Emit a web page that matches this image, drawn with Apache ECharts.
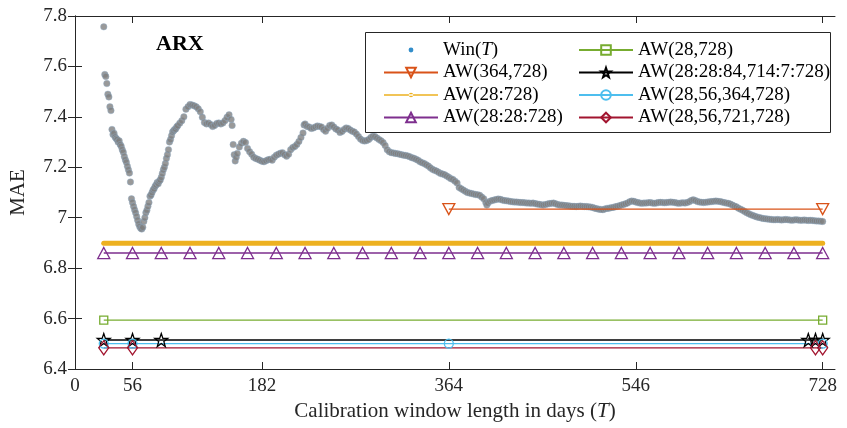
<!DOCTYPE html>
<html>
<head>
<meta charset="utf-8">
<script src="https://cdn.jsdelivr.net/npm/echarts@6/dist/echarts.min.js"></script>
<style>
  html, body { margin: 0; padding: 0; background: #fff; }
  #chart { width: 847px; height: 428px; }
</style>
</head>
<body>
<div id="chart"></div>
<script>
// x ticks / y range
const xTicks = [0, 56, 182, 364, 546, 728];

// Win(T): [T, MAE]
const winPoints = [
  [28,7.757],[29,7.568],[30,7.56],[31,7.532],[32,7.49],[33,7.479],[34,7.44],[35,7.425],
  [36,7.35],[37,7.33],[38,7.335],[39,7.32],[40,7.314],[41,7.31],[42,7.3],[43,7.305],
  [44,7.29],[45,7.283],[46,7.27],[47,7.26],[48,7.243],[49,7.23],[50,7.22],[51,7.204],
  [52,7.19],[53,7.177],[54,7.142],[55,7.075],[56,7.06],[57,7.045],[58,7.032],[59,7.02],
  [60,7.005],[61,6.99],[62,6.975],[63,6.965],[64,6.958],[65,6.955],[66,6.962],[67,6.985],
  [68,7.0],[69,7.02],[70,7.03],[71,7.045],[72,7.06],[73,7.085],[74,7.09],[75,7.1],
  [76,7.11],[77,7.115],[78,7.125],[79,7.13],[80,7.14],[81,7.135],[82,7.145],[83,7.15],
  [84,7.16],[85,7.175],[86,7.19],[87,7.2],[88,7.215],[89,7.235],[90,7.25],[91,7.27],
  [92,7.3],[93,7.31],[94,7.325],[95,7.34],[96,7.345],[97,7.35],[98,7.352],[99,7.36],
  [100,7.365],[102,7.375],[104,7.385],[106,7.4],[108,7.43],[110,7.44],[112,7.449],
  [114,7.447],[116,7.444],[118,7.44],[120,7.432],[122,7.42],[124,7.398],[126,7.378],
  [128,7.372],[130,7.376],[132,7.37],[134,7.362],[136,7.366],[138,7.374],[140,7.376],
  [142,7.372],[144,7.376],[146,7.385],[148,7.398],[150,7.408],[152,7.39],[153,7.366],
  [154,7.29],[155,7.25],[156,7.225],[157,7.24],[158,7.255],[160,7.28],[162,7.295],
  [164,7.303],[166,7.298],[168,7.275],[170,7.262],[172,7.252],[174,7.24],[176,7.235],
  [178,7.232],[180,7.228],[182,7.224],[184,7.222],[186,7.226],[188,7.23],[190,7.232],
  [192,7.228],[194,7.24],[196,7.248],[198,7.252],[200,7.256],[202,7.258],[204,7.25],
  [206,7.244],[208,7.252],[210,7.27],[212,7.278],[214,7.282],[216,7.29],[218,7.302],
  [220,7.318],[222,7.336],[223,7.368],[224,7.372],[226,7.362],[228,7.36],[230,7.354],
  [232,7.356],[234,7.36],[236,7.364],[238,7.362],[240,7.36],[242,7.35],[244,7.343],
  [246,7.355],[248,7.366],[250,7.368],[252,7.36],[254,7.352],[256,7.348],[258,7.338],
  [260,7.342],[262,7.35],[264,7.356],[266,7.354],[268,7.348],[270,7.343],[272,7.34],
  [274,7.332],[276,7.322],[278,7.312],[280,7.306],[282,7.304],[284,7.306],[286,7.31],
  [288,7.318],[290,7.323],[292,7.322],[294,7.316],[296,7.31],[298,7.305],[300,7.298],
  [302,7.286],[304,7.27],[306,7.262],[308,7.258],[310,7.257],[312,7.255],[314,7.254],
  [316,7.252],[318,7.25],[320,7.248],[322,7.247],[324,7.245],[326,7.242],[328,7.238],
  [330,7.236],[332,7.232],[334,7.228],[336,7.222],[338,7.218],[340,7.215],[342,7.21],
  [344,7.205],[346,7.198],[348,7.192],[350,7.188],[352,7.185],[354,7.18],[356,7.175],
  [358,7.173],[360,7.17],[362,7.165],[364,7.16],[366,7.155],[368,7.152],[370,7.145],
  [372,7.138],[374,7.12],[376,7.115],[378,7.11],[380,7.105],[382,7.1],[384,7.098],
  [386,7.096],[388,7.094],[390,7.092],[392,7.091],[394,7.089],[396,7.082],[398,7.075],
  [400,7.06],[401,7.05],[402,7.058],[404,7.065],[406,7.068],[408,7.07],[410,7.072],
  [412,7.074],[414,7.073],[416,7.07],[418,7.068],[420,7.067],[422,7.066],[424,7.064],
  [426,7.063],[428,7.062],[430,7.062],[432,7.061],[434,7.06],[436,7.06],[438,7.059],
  [440,7.058],[442,7.058],[444,7.057],[446,7.058],[448,7.056],[450,7.054],[452,7.053],
  [454,7.051],[456,7.05],[458,7.052],[460,7.054],[462,7.056],[464,7.057],[466,7.058],
  [468,7.055],[470,7.052],[472,7.05],[474,7.05],[476,7.049],[478,7.048],[480,7.047],
  [482,7.046],[484,7.045],[486,7.045],[488,7.044],[490,7.045],[492,7.046],[494,7.045],
  [496,7.044],[498,7.044],[500,7.043],[502,7.042],[504,7.041],[506,7.038],[508,7.036],
  [510,7.034],[512,7.033],[514,7.032],[516,7.035],[518,7.037],[520,7.038],[522,7.04],
  [524,7.041],[526,7.043],[528,7.045],[530,7.047],[532,7.05],[534,7.052],[536,7.055],
  [538,7.058],[540,7.063],[542,7.066],[544,7.065],[546,7.062],[548,7.06],[550,7.058],
  [552,7.057],[554,7.058],[556,7.058],[558,7.059],[560,7.06],[562,7.058],[564,7.057],
  [566,7.058],[568,7.06],[570,7.061],[572,7.06],[574,7.059],[576,7.06],[578,7.061],
  [580,7.062],[582,7.061],[584,7.06],[586,7.058],[588,7.057],[590,7.058],[592,7.059],
  [594,7.058],[596,7.06],[598,7.063],[600,7.068],[602,7.071],[604,7.068],[606,7.064],
  [608,7.062],[610,7.061],[612,7.06],[614,7.061],[616,7.062],[618,7.063],[620,7.064],
  [622,7.065],[624,7.066],[626,7.065],[628,7.064],[630,7.062],[632,7.06],[634,7.058],
  [636,7.057],[638,7.054],[640,7.05],[642,7.046],[644,7.043],[646,7.038],[648,7.034],
  [650,7.03],[652,7.025],[654,7.02],[656,7.016],[658,7.012],[660,7.009],[662,7.006],
  [664,7.003],[666,7.001],[668,6.999],[670,6.997],[672,6.996],[674,6.995],[676,6.994],
  [678,6.993],[680,6.992],[682,6.992],[684,6.993],[686,6.992],[688,6.991],[690,6.992],
  [692,6.993],[694,6.992],[696,6.991],[698,6.99],[700,6.991],[702,6.992],[704,6.991],
  [706,6.99],[708,6.99],[710,6.991],[712,6.99],[714,6.989],[716,6.99],[718,6.989],
  [720,6.988],[722,6.987],[724,6.987],[726,6.986],[728,6.985]
];

// averaged windows: window lengths used (marker positions) and their MAE
const aw364T = [364, 728];                 const aw364MAE = 7.034;
const awAllT = [28, 728];                  const awAllMAE = 6.899;
const awStepT = [28, 56, 84, 112, 140, 168, 196, 224, 252, 280, 308, 336, 364,
                 392, 420, 448, 476, 504, 532, 560, 588, 616, 644, 672, 700, 728];
const awStepMAE = 6.86;
const aw28T = [28, 728];                   const aw28MAE = 6.594;
const awStarT = [28, 56, 84, 714, 721, 728]; const awStarMAE = 6.515;
const awBlueT = [28, 56, 364, 728];        const awBlueMAE = 6.501;
const awRedT = [28, 56, 721, 728];         const awRedMAE = 6.484;

const names = ['Win(T)', 'AW(364,728)', 'AW(28:728)', 'AW(28:28:728)',
               'AW(28,728)', 'AW(28:28:84,714:7:728)', 'AW(28,56,364,728)', 'AW(28,56,721,728)'];

const serif = 'Liberation Serif';
const starPath = 'path://M0,-10 L2.35,-3.24 9.51,-3.09 3.8,1.24 5.88,8.09 0,4 -5.88,8.09 -3.8,1.24 -9.51,-3.09 -2.35,-3.24 Z';
const clear = 'rgba(255,255,255,0)';

function flat(ts, v) { return ts.map(t => [t, v]); }

function awSeries(name, ts, v, color, symbol, size, extra) {
    return Object.assign({
        name: name,
        type: 'line',
        data: flat(ts, v),
        symbol: symbol,
        symbolSize: size,
        showAllSymbol: true,
        lineStyle: { color: color, width: 1.3 },
        itemStyle: { color: clear, borderColor: color, borderWidth: 1.3 },
        emphasis: { disabled: true },
        animation: false,
        z: 3
    }, extra || {});
}

const chart = echarts.init(document.getElementById('chart'));

const axisCol = '#262626';
const labelStyle = { fontFamily: serif, fontSize: 19, color: axisCol };
const legendText = {
    fontFamily: serif, fontSize: 19, color: '#000', lineHeight: 20,
    rich: {
        a: { fontFamily: serif, fontSize: 19, color: '#000', lineHeight: 20 },
        i: { fontFamily: serif, fontSize: 19, color: '#000', lineHeight: 20, fontStyle: 'italic' }
    }
};
// italic T in Win(T)
function legendFmt(n) {
    return n === 'Win(T)' ? '{a|Win(}{i|T}{a|)}' : n;
}

const option = {
    animation: false,
    grid: { left: 73, right: 12, top: 16, bottom: 59 },
    title: {
        text: 'ARX', left: 151, top: 28,
        textStyle: { fontFamily: serif, fontWeight: 'bold', fontSize: 22, color: '#000' }
    },
    xAxis: [{
        type: 'value', min: 0, max: 740, position: 'bottom',
        axisLine: { show: true, lineStyle: { color: axisCol, width: 1 } },
        axisTick: { show: true, inside: true, length: 7, customValues: xTicks, lineStyle: { color: axisCol } },
        axisLabel: Object.assign({ customValues: xTicks, margin: 8 }, labelStyle),
        splitLine: { show: false },
        name: '{a|Calibration window length in days (}{i|T}{a|)}',
        nameLocation: 'middle', nameGap: 30,
        nameTextStyle: {
            rich: {
                a: { fontFamily: serif, fontSize: 21, color: axisCol },
                i: { fontFamily: serif, fontSize: 21, fontStyle: 'italic', color: axisCol }
            }
        }
    }, {
        type: 'value', min: 0, max: 740, position: 'top',
        axisLine: { show: true, lineStyle: { color: axisCol, width: 1 } },
        axisTick: { show: true, inside: true, length: 7, customValues: xTicks, lineStyle: { color: axisCol } },
        axisLabel: { show: false },
        splitLine: { show: false }
    }],
    yAxis: [{
        type: 'value', min: 6.4, max: 7.8, interval: 0.2, position: 'left',
        axisLine: { show: true, lineStyle: { color: axisCol, width: 1 } },
        axisTick: { show: true, inside: true, length: 7, lineStyle: { color: axisCol } },
        axisLabel: Object.assign({ margin: 8 }, labelStyle),
        splitLine: { show: false },
        name: 'MAE', nameLocation: 'middle', nameGap: 46, nameRotate: 90,
        nameTextStyle: { fontFamily: serif, fontSize: 21, color: axisCol }
    }, {
        type: 'value', min: 6.4, max: 7.8, interval: 0.2, position: 'right',
        axisLine: { show: true, lineStyle: { color: axisCol, width: 1 } },
        axisTick: { show: true, inside: true, length: 7, lineStyle: { color: axisCol } },
        axisLabel: { show: false },
        splitLine: { show: false }
    }],
    graphic: [{
        type: 'rect', z: 10,
        shape: { x: 365.5, y: 32.5, width: 465, height: 100 },
        style: { fill: '#fff', stroke: axisCol, lineWidth: 1 }
    }],
    legend: [{
        data: [
            { name: names[0], icon: 'path://M0,0 M54,12 M24.6,6 a2.4,2.4 0 1,0 4.8,0 a2.4,2.4 0 1,0 -4.8,0 Z',
              itemStyle: { color: '#0072BD', borderWidth: 0 } },
            { name: names[1] },
            { name: names[2], icon: 'path://M0,0 M54,12 M0,5.2 L54,5.2 L54,6.8 L0,6.8 Z M24.8,6 a2.2,2.2 0 1,0 4.4,0 a2.2,2.2 0 1,0 -4.4,0 Z',
              itemStyle: { color: '#EDB120', borderColor: '#EDB120', borderWidth: 0, opacity: 1 } },
            { name: names[3] }
        ],
        formatter: legendFmt,
        orient: 'vertical', left: 378, top: 35, itemWidth: 54, itemHeight: 12, itemGap: 2.5,
        selectedMode: false, z: 11,
        textStyle: legendText
    }, {
        data: names.slice(4).map(n => ({ name: n })),
        orient: 'vertical', left: 573, top: 35, itemWidth: 54, itemHeight: 12, itemGap: 2.5,
        selectedMode: false, z: 11,
        textStyle: legendText
    }],
    series: [
        {
            name: names[0], type: 'scatter', data: winPoints, symbolSize: 6.5,
            itemStyle: { color: '#7f7f7f', borderColor: '#8fb0cc', borderWidth: 0.5 },
            emphasis: { disabled: true }, z: 2
        },
        awSeries(names[2], awAllT, awAllMAE, '#EDB120', 'circle', 4, {
            lineStyle: { color: '#EDB120', width: 5, cap: 'round' },
            itemStyle: { color: '#EDB120' }
        }),
        awSeries(names[1], aw364T, aw364MAE, '#D95319', 'triangle', [12, 11], { symbolRotate: 180 }),
        awSeries(names[3], awStepT, awStepMAE, '#7E2F8E', 'triangle', [12, 11]),
        awSeries(names[4], aw28T, aw28MAE, '#77AC30', 'rect', 8),
        awSeries(names[5], awStarT, awStarMAE, '#000000', starPath, 13),
        awSeries(names[6], awBlueT, awBlueMAE, '#4DBEEE', 'circle', 9),
        awSeries(names[7], awRedT, awRedMAE, '#A2142F', 'diamond', [10, 14])
    ]
};

chart.setOption(option);
</script>
</body>
</html>
